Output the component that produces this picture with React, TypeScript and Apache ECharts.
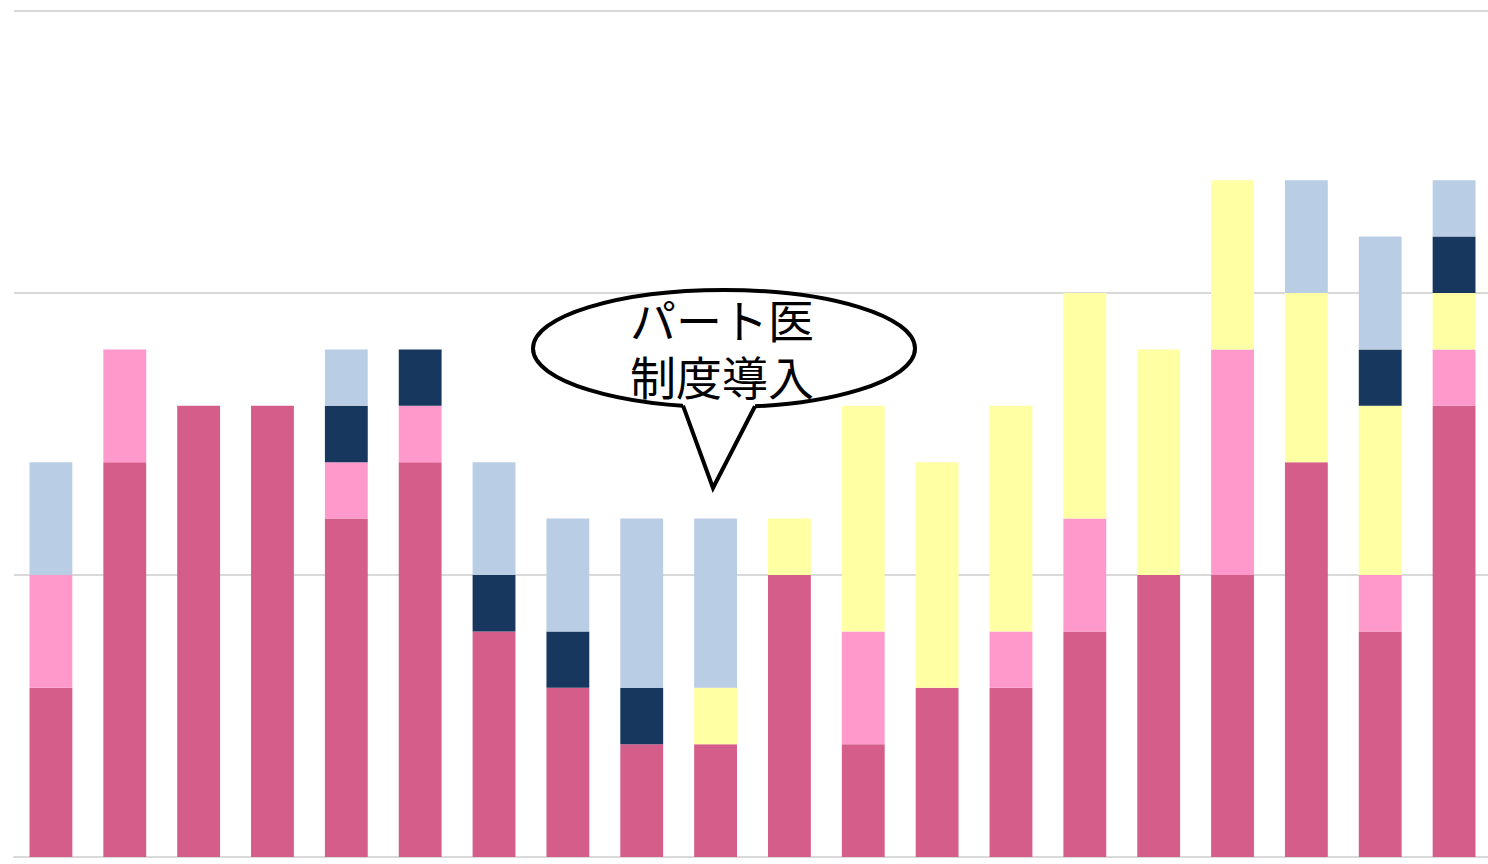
import React, { useEffect, useRef } from "react";
import * as echarts from "echarts";

const categories = ["1", "2", "3", "4", "5", "6", "7", "8", "9", "10", "11", "12", "13", "14", "15", "16", "17", "18", "19", "20"];
const darkPink = [3, 7, 8, 8, 6, 7, 4, 3, 2, 2, 5, 2, 3, 3, 4, 5, 5, 7, 4, 8];
const lightPink = [2, 2, 0, 0, 1, 1, 0, 0, 0, 0, 0, 2, 0, 1, 2, 0, 4, 0, 1, 1];
const yellow = [0, 0, 0, 0, 0, 0, 0, 0, 0, 1, 1, 4, 4, 4, 4, 4, 3, 3, 3, 1];
const navy = [0, 0, 0, 0, 1, 1, 1, 1, 1, 0, 0, 0, 0, 0, 0, 0, 0, 0, 1, 1];
const lightBlue = [2, 0, 0, 0, 1, 0, 2, 2, 3, 3, 0, 0, 0, 0, 0, 0, 0, 2, 2, 1];

const seriesDefs = [
  { name: "a", data: darkPink, color: "#D45D8A" },
  { name: "b", data: lightPink, color: "#FF99CC" },
  { name: "c", data: yellow, color: "#FFFFA3" },
  { name: "d", data: navy, color: "#17375E" },
  { name: "e", data: lightBlue, color: "#B9CDE5" },
];

const calloutLines = ["パート医", "制度導入"];

export default function App() {
  const ref = useRef<HTMLDivElement>(null);
  useEffect(() => {
    if (!ref.current) return;
    const chart = echarts.init(ref.current, null, { renderer: "svg" });
    const cx = 724, cy = 348.5, rx = 191, ry = 58.5;
    const bx1 = 683, bx2 = 755;
    const by1 = cy + ry * Math.sqrt(1 - ((bx1 - cx) / rx) ** 2);
    const by2 = cy + ry * Math.sqrt(1 - ((bx2 - cx) / rx) ** 2);
    chart.setOption({
      animation: false,
      grid: { left: 14, right: 0, top: 11, bottom: 7, containLabel: false },
      xAxis: {
        type: "category",
        data: categories,
        axisLine: { show: true, lineStyle: { color: "#D9D9D9", width: 2 } },
        axisTick: { show: false },
        axisLabel: { show: false },
      },
      yAxis: {
        type: "value",
        min: 0,
        max: 15,
        interval: 5,
        axisLine: { show: false },
        axisTick: { show: false },
        axisLabel: { show: false },
        splitLine: { show: true, lineStyle: { color: "#D9D9D9", width: 2 } },
      },
      series: seriesDefs.map((s) => ({
        type: "bar",
        name: s.name,
        stack: "total",
        data: s.data,
        barWidth: "58%",
        itemStyle: { color: s.color },
        emphasis: { disabled: true },
      })),
      graphic: [
        {
          type: "ellipse",
          shape: { cx, cy, rx, ry },
          style: { fill: "#FFFFFF", stroke: "#000000", lineWidth: 4 },
          z: 100,
        },
        {
          type: "polygon",
          shape: { points: [[bx1, by1], [713, 488], [bx2, by2], [bx2, by2 - 12], [bx1, by1 - 12]] },
          style: { fill: "#FFFFFF", stroke: null },
          z: 101,
        },
        {
          type: "polyline",
          shape: { points: [[bx1, by1], [713, 488], [bx2, by2]] },
          style: { fill: null, stroke: "#000000", lineWidth: 4, lineJoin: "miter" },
          z: 102,
        },
        ...calloutLines.map((t, i) => ({
          type: "text",
          x: 722,
          y: 318 + i * 57,
          style: {
            text: t,
            fill: "#000000",
            font: '46px "Noto Sans CJK JP"',
            lineHeight: 46,
            align: "center",
            verticalAlign: "middle",
          },
          z: 103,
        })),
      ],
    });
    return () => chart.dispose();
  }, []);
  return (
    <div style={{ position: "fixed", left: 0, top: 0, width: 1488, height: 864, overflow: "hidden", background: "#fff" }}>
      <div ref={ref} style={{ width: 1491, height: 864 }} />
    </div>
  );
}
